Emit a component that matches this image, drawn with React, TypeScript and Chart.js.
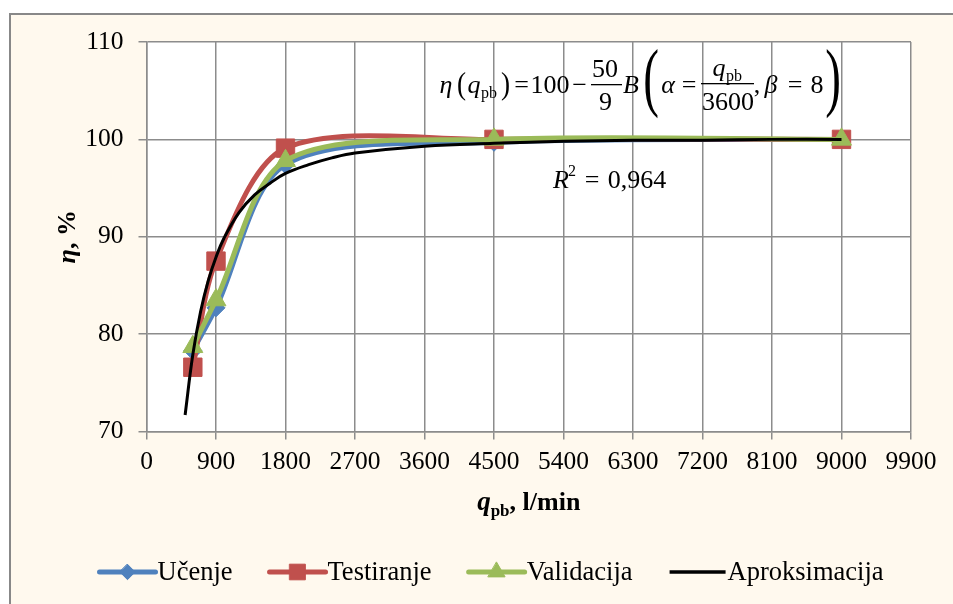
import React, { useEffect, useRef } from "react";
import { Chart, registerables } from "chart.js";

Chart.register(...registerables);

// ---- data ----
const flowRates = [600, 900, 1800, 4500, 9000];
const ucenje = [78.3, 82.7, 97.4, 99.7, 100.0];
const testiranje = [76.6, 87.5, 99.1, 100.0, 100.0];
const validacija = [78.7, 83.5, 97.8, 100.0, 100.0];
const aproxX = [500, 600, 700, 800, 900, 1000, 1200, 1400, 1600, 1800, 2100, 2400, 2700, 3600, 4500, 5400, 6300, 7200, 8100, 9000];
const aproxY = [71.7, 77.9, 82.3, 85.5, 87.9, 89.8, 92.5, 94.3, 95.5, 96.5, 97.4, 98.1, 98.6, 99.3, 99.6, 99.8, 99.9, 99.9, 100.0, 100.0];
const seriesLabels = ["Učenje", "Testiranje", "Validacija", "Aproksimacija"];
const xMin = 0, xMax = 9900, xStep = 900;
const yMin = 70, yMax = 110, yStep = 10;

// ---- styles ----
const BLUE = "#4F81BD";
const RED = "#C0504D";
const GREEN = "#9BBB59";
const BLACK = "#000000";
const GRID = "#8c8c8c";
const CREAM = "#FFF9EE";
const SERIF = '"Liberation Serif", "Times New Roman", serif';

const seriesStyles = [
  { color: BLUE, pointStyle: "rectRot", radius: 9, width: 5 },
  { color: RED, pointStyle: "rect", radius: 13, width: 5 },
  { color: GREEN, pointStyle: "triangle", radius: 11.5, width: 5 },
  { color: BLACK, pointStyle: false, radius: 0, width: 3 },
];

function toXY(xs: number[], ys: number[]) {
  return xs.map((x, i) => ({ x, y: ys[i] }));
}

function txt(ctx: CanvasRenderingContext2D, s: string, x: number, y: number, font: string, align: CanvasTextAlign = "center") {
  ctx.font = font;
  ctx.textAlign = align;
  ctx.textBaseline = "alphabetic";
  ctx.fillText(s, x, y);
}

function paren(ctx: CanvasRenderingContext2D, s: string, cx: number, baseline: number, size: number, sx: number) {
  ctx.save();
  ctx.translate(cx, baseline);
  ctx.scale(sx, 1);
  ctx.font = `${size}px ${SERIF}`;
  ctx.textAlign = "center";
  ctx.textBaseline = "alphabetic";
  ctx.fillText(s, 0, 0);
  ctx.restore();
}

function drawPointSimple(ctx: CanvasRenderingContext2D, style: string, x: number, y: number, r: number) {
  ctx.beginPath();
  if (style === "rect") {
    const s = r * Math.SQRT1_2;
    ctx.rect(x - s, y - s, 2 * s, 2 * s);
  } else if (style === "rectRot") {
    ctx.moveTo(x, y - r);
    ctx.lineTo(x + r, y);
    ctx.lineTo(x, y + r);
    ctx.lineTo(x - r, y);
    ctx.closePath();
  } else if (style === "triangle") {
    ctx.moveTo(x, y - r);
    ctx.lineTo(x + r * Math.sin(Math.PI / 3), y + r / 2);
    ctx.lineTo(x - r * Math.sin(Math.PI / 3), y + r / 2);
    ctx.closePath();
  }
  ctx.fill();
  ctx.stroke();
}

const backgroundPlugin = {
  id: "bg",
  beforeDraw(chart: any) {
    const ctx = chart.ctx as CanvasRenderingContext2D;
    const { left, top, right, bottom } = chart.chartArea;
    ctx.save();
    ctx.fillStyle = "#ffffff";
    ctx.fillRect(0, 0, chart.width, chart.height);
    ctx.fillStyle = CREAM;
    ctx.fillRect(10, 14, chart.width, chart.height);
    ctx.strokeStyle = "#888888";
    ctx.lineWidth = 2;
    ctx.strokeRect(10, 14, chart.width + 20, chart.height + 20);
    ctx.fillStyle = "#ffffff";
    ctx.fillRect(left, top, right - left, bottom - top);
    ctx.restore();
  },
};

const annotationPlugin = {
  id: "annot",
  afterDraw(chart: any) {
    const ctx = chart.ctx as CanvasRenderingContext2D;
    const { left, right, top, bottom } = chart.chartArea;
    ctx.save();
    ctx.fillStyle = "#000";

    // Y axis title
    ctx.save();
    ctx.translate(66, (top + bottom) / 2);
    ctx.rotate(-Math.PI / 2);
    const fEtaB = `italic bold 26px ${SERIF}`;
    const fB = `bold 26px ${SERIF}`;
    ctx.font = fEtaB;
    const wEta = ctx.measureText("η").width;
    ctx.font = fB;
    const wRest = ctx.measureText(", %").width;
    const sx = -(wEta + wRest) / 2;
    txt(ctx, "η", sx, 9, fEtaB, "left");
    txt(ctx, ", %", sx + wEta, 9, fB, "left");
    ctx.restore();

    // X axis title
    {
      const fq = `italic bold 27px ${SERIF}`;
      const fsub = `bold 17px ${SERIF}`;
      const fr = `bold 26px ${SERIF}`;
      ctx.font = fq; const wq = ctx.measureText("q").width;
      ctx.font = fsub; const ws = ctx.measureText("pb").width;
      ctx.font = fr; const wr = ctx.measureText(", l/min").width;
      const total = wq + ws + wr;
      let x = (left + right) / 2 - total / 2;
      const b = 510;
      txt(ctx, "q", x, b, fq, "left"); x += wq;
      txt(ctx, "pb", x, b + 6, fsub, "left"); x += ws;
      txt(ctx, ", l/min", x, b, fr, "left");
    }

    // Equation
    const it = `italic 26px ${SERIF}`;
    const rm = `26px ${SERIF}`;
    const sub = `16px ${SERIF}`;
    const B = 93;
    txt(ctx, "η", 446, B, it);
    paren(ctx, "(", 461.5, 94, 32, 0.85);
    txt(ctx, "q", 474, B, it);
    txt(ctx, "pb", 489, B + 5, sub);
    paren(ctx, ")", 505.5, 94, 32, 0.85);
    txt(ctx, "=", 521.5, B, rm);
    txt(ctx, "100", 550, B, rm);
    txt(ctx, "−", 579.5, B, rm);
    txt(ctx, "50", 605, 77, rm);
    ctx.fillRect(591, 84, 31, 1.3);
    txt(ctx, "9", 605.5, 110, rm);
    txt(ctx, "B", 631, B, it);
    paren(ctx, "(", 651, 101.5, 76, 0.62);
    txt(ctx, "α", 668, B, it);
    txt(ctx, "=", 689, B, rm);
    txt(ctx, "q", 719, 76, it);
    txt(ctx, "pb", 734, 81, sub);
    ctx.fillRect(701, 83, 53, 1.3);
    txt(ctx, "3600", 728, 110, rm);
    txt(ctx, ",", 757, B, rm);
    txt(ctx, "β", 771, B, it);
    txt(ctx, "=", 795, B, rm);
    txt(ctx, "8", 817, B, rm);
    paren(ctx, ")", 833, 101.5, 76, 0.62);

    // R^2
    txt(ctx, "R", 561, 188, it);
    txt(ctx, "2", 572, 176, `16px ${SERIF}`);
    txt(ctx, "=", 592, 188, rm);
    txt(ctx, "0,964", 637, 188, rm);

    // Legend
    const lf = `26.5px ${SERIF}`;
    let lx = 99.5;
    const ly = 572;
    const lineLen = 56;
    seriesLabels.forEach((label, i) => {
      const st = seriesStyles[i];
      ctx.strokeStyle = st.color;
      ctx.lineWidth = i === 3 ? 3.5 : 5;
      ctx.lineCap = i === 3 ? "butt" : "round";
      ctx.beginPath();
      ctx.moveTo(lx, ly);
      ctx.lineTo(lx + lineLen, ly);
      ctx.stroke();
      if (st.pointStyle) {
        ctx.fillStyle = st.color;
        ctx.strokeStyle = st.color;
        ctx.lineWidth = 1;
        drawPointSimple(ctx, st.pointStyle as string, lx + lineLen / 2, ly, st.radius * 0.85);
      }
      ctx.fillStyle = "#000";
      ctx.font = lf;
      ctx.textAlign = "left";
      ctx.textBaseline = "middle";
      ctx.fillText(label, lx + lineLen + 2, ly + 1);
      const w = ctx.measureText(label).width;
      lx = lx + lineLen + 2 + w + 37;
    });
    ctx.restore();
  },
};

export default function App() {
  const ref = useRef<HTMLCanvasElement>(null);
  useEffect(() => {
    const canvas = ref.current!;
    const ys = [ucenje, testiranje, validacija];
    const datasets: any[] = ys.map((vals, i) => ({
      label: seriesLabels[i],
      data: toXY(flowRates, vals),
      borderColor: seriesStyles[i].color,
      backgroundColor: seriesStyles[i].color,
      borderWidth: seriesStyles[i].width,
      pointStyle: seriesStyles[i].pointStyle,
      pointRadius: seriesStyles[i].radius,
      pointBackgroundColor: seriesStyles[i].color,
      pointBorderColor: seriesStyles[i].color,
      pointBorderWidth: 1,
      tension: 0.3,
      fill: false,
      order: 4 - i,
      borderCapStyle: "round",
      borderJoinStyle: "round",
    }));
    datasets.push({
      label: seriesLabels[3],
      data: toXY(aproxX, aproxY),
      borderColor: BLACK,
      backgroundColor: BLACK,
      borderWidth: seriesStyles[3].width,
      pointRadius: 0,
      tension: 0.4,
      fill: false,
      order: 1,
    });
    const tickFont = { family: SERIF, size: 25.5 };
    const chart = new Chart(canvas, {
      type: "line",
      data: { datasets },
      options: {
        responsive: false,
        animation: false,
        devicePixelRatio: 1,
        events: [],
        layout: { padding: { left: 0, top: 42, right: 42, bottom: 132.5 } },
        plugins: { legend: { display: false }, tooltip: { enabled: false } },
        scales: {
          x: {
            type: "linear",
            min: xMin,
            max: xMax,
            ticks: {
              stepSize: xStep,
              color: "#000",
              font: tickFont,
              padding: 7,
              maxRotation: 0,
              autoSkip: false,
              callback: (v: any) => String(v),
            },
            grid: { color: GRID, lineWidth: 1.5, tickLength: 8, tickColor: GRID },
            border: { color: GRID, width: 1.5 },
            afterFit: (s: any) => { s.height = 40; },
          },
          y: {
            type: "linear",
            min: yMin,
            max: yMax,
            ticks: {
              stepSize: yStep,
              color: "#000",
              font: tickFont,
              padding: 15,
              callback: (v: any) => String(v),
            },
            grid: { color: GRID, lineWidth: 1.5, tickLength: 8, tickColor: GRID },
            border: { color: GRID, width: 1.5 },
            afterFit: (s: any) => { s.width = 146.5; },
          },
        },
      } as any,
      plugins: [backgroundPlugin, annotationPlugin],
    });
    return () => chart.destroy();
  }, []);
  return (
    <div style={{ position: "fixed", left: 0, top: 0, width: 953, height: 604 }}>
      <canvas ref={ref} width={953} height={604} style={{ display: "block", width: 953, height: 604 }} />
    </div>
  );
}
